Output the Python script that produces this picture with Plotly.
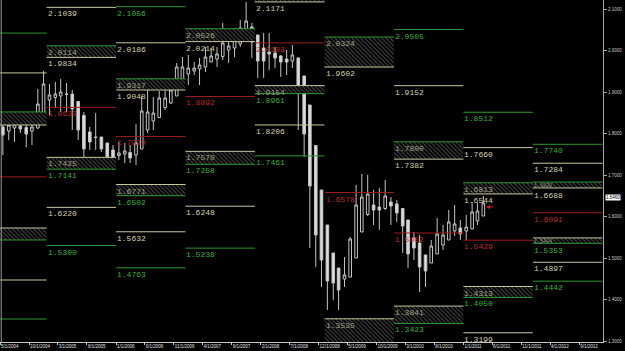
import plotly.graph_objects as go
import pandas as pd

# ---------------- candle data (Heikin-Ashi style monthly candles, May 2004 - Apr 2011)
months = pd.date_range('2004-05-01', periods=84, freq='MS') + pd.Timedelta(days=15)

opens = [
    1.8157, 1.8060, 1.8133, 1.8181, 1.8145, 1.8060, 1.8133, 1.8434,
    1.8807, 1.8868, 1.8904, 1.8952, 1.8952, 1.8771, 1.8434, 1.8036, 1.7916, 1.7916, 1.7771, 1.7603,
    1.7470, 1.7506, 1.7542, 1.7482, 1.7627, 1.8084, 1.8301, 1.8386, 1.8627, 1.8735, 1.8904, 1.9265,
    1.9434, 1.9506, 1.9554, 1.9603, 1.9723, 1.9795, 1.9856, 2.0012, 2.0060, 2.0157, 2.0518, 2.0566,
    2.0374, 2.0060, 1.9964, 1.9940, 1.9868, 1.9795, 1.9747, 1.9819, 1.9386, 1.8687, 1.7711, 1.6639,
    1.5795, 1.5121, 1.4759, 1.4494, 1.4542, 1.5000, 1.5627, 1.6049, 1.6277, 1.6229, 1.6193, 1.6350,
    1.6302, 1.6193, 1.5916, 1.5482, 1.5362, 1.5073, 1.4880, 1.5097, 1.5313, 1.5434, 1.5651, 1.5723,
    1.5651, 1.5699, 1.5892, 1.6013]
highs = [
    1.8325, 1.8325, 1.8374, 1.8494, 1.8446, 1.8446, 1.9072, 1.9506,
    1.9193, 1.9241, 1.9313, 1.9217, 1.9048, 1.8783, 1.8518, 1.8157, 1.8494, 1.7916, 1.7771, 1.7723,
    1.7795, 1.7771, 1.7723, 1.8229, 1.8904, 1.9048, 1.8880, 1.9024, 1.9048, 1.9145, 1.9699, 1.9843,
    1.9892, 1.9723, 1.9819, 2.0084, 2.0060, 2.0084, 2.0663, 2.0325, 2.0542, 2.0735, 2.1169, 2.0663,
    2.0374, 2.0422, 2.0422, 2.0084, 1.9892, 2.0012, 2.0133, 1.9843, 1.9386, 1.8687, 1.7711, 1.6639,
    1.5795, 1.5121, 1.4759, 1.5024, 1.5506, 1.6759, 1.7024, 1.7000, 1.6639, 1.6687, 1.6880, 1.6470,
    1.6398, 1.6193, 1.5916, 1.5627, 1.5554, 1.5073, 1.5434, 1.5964, 1.5795, 1.6157, 1.6277, 1.5916,
    1.6037, 1.6350, 1.6326, 1.6494]
lows = [
    1.7482, 1.7843, 1.7795, 1.8012, 1.7675, 1.7723, 1.8109, 1.8422,
    1.8446, 1.8615, 1.8518, 1.8518, 1.8084, 1.7843, 1.7434, 1.7603, 1.7603, 1.7555, 1.7289, 1.7121,
    1.7362, 1.7289, 1.7289, 1.7241, 1.7627, 1.8012, 1.8084, 1.8374, 1.8566, 1.8711, 1.8904, 1.9217,
    1.9169, 1.9410, 1.9169, 1.9482, 1.9723, 1.9603, 1.9771, 1.9699, 1.9843, 2.0084, 2.0205, 1.9819,
    1.9338, 1.9338, 1.9530, 1.9578, 1.9362, 1.9410, 1.9578, 1.8084, 1.7434, 1.5241, 1.4783, 1.4301,
    1.3747, 1.3988, 1.3747, 1.4301, 1.4542, 1.5000, 1.5627, 1.6013, 1.5795, 1.5675, 1.6157, 1.5795,
    1.5868, 1.5121, 1.4759, 1.4952, 1.4181, 1.4301, 1.4880, 1.5097, 1.5193, 1.5434, 1.5530, 1.5434,
    1.5434, 1.5699, 1.5795, 1.6013]
closes = [
    1.7964, 1.8205, 1.8229, 1.8109, 1.7988, 1.8157, 1.8711, 1.9193,
    1.8928, 1.8952, 1.9000, 1.8940, 1.8591, 1.8084, 1.7627, 1.7795, 1.7904, 1.7627, 1.7434, 1.7338,
    1.7530, 1.7579, 1.7410, 1.7771, 1.8542, 1.8518, 1.8494, 1.8856, 1.8856, 1.9048, 1.9603, 1.9603,
    1.9578, 1.9578, 1.9651, 1.9843, 1.9868, 1.9916, 2.0181, 2.0109, 2.0253, 2.0542, 2.0711, 2.0205,
    1.9747, 1.9747, 1.9916, 1.9819, 1.9723, 1.9723, 1.9892, 1.8976, 1.7988, 1.6735, 1.5554, 1.4952,
    1.4446, 1.4398, 1.4229, 1.4591, 1.5458, 1.6277, 1.6470, 1.6542, 1.6157, 1.6157, 1.6494, 1.6253,
    1.6085, 1.5771, 1.5097, 1.5241, 1.4783, 1.4687, 1.5289, 1.5579, 1.5554, 1.5868, 1.5820, 1.5579,
    1.5747, 1.6109, 1.6133, 1.6326]

# ---------------- yearly level lines
line_year = [2004, 2004, 2004, 2004, 2004,
             2005, 2005, 2005, 2005,
             2006, 2006, 2006, 2006, 2006,
             2007, 2007, 2007,
             2008, 2008, 2008,
             2009,
             2010, 2010, 2010,
             2011, 2011, 2011, 2011,
             2012, 2012, 2012, 2012, 2012]
line_value = [2.0420, 1.9460, 1.6955, 1.4470, 1.3530,
              2.1039, 1.8630, 1.6220, 1.5300,
              2.1056, 2.0186, 1.7929, 1.5632, 1.4763,
              1.8892, 1.6248, 1.5238,
              2.0183, 1.8206, 1.7461,
              1.6578,
              2.0505, 1.9152, 1.5602,
              1.8512, 1.7660, 1.5429, 1.3199,
              1.7740, 1.7284, 1.6091, 1.4897, 1.4442]
line_kind = ['green', 'tan', 'red', 'tan', 'green',
             'tan', 'red', 'tan', 'green',
             'green', 'tan', 'red', 'tan', 'green',
             'red', 'tan', 'green',
             'red', 'tan', 'green',
             'red',
             'green', 'tan', 'red',
             'green', 'tan', 'red', 'tan',
             'green', 'tan', 'red', 'tan', 'green']

# ---------------- yearly hatched zones
zone_year = [2004, 2004, 2005, 2005, 2006, 2006, 2007, 2007, 2008, 2008,
             2009, 2009, 2010, 2010, 2011, 2011, 2012, 2012]
zone_top = [1.8520, 1.5723, 2.0114, 1.7425, 1.9317, 1.6771, 2.0526, 1.7570, 2.1420, 1.9154,
            2.0324, 1.3535, 1.7800, 1.3841, 1.6813, 1.4313, 1.6830, 1.5484]
zone_bottom = [1.8205, 1.5434, 1.9834, 1.7141, 1.9048, 1.6502, 2.0214, 1.7258, 2.1171, 1.8961,
               1.9602, 1.2680, 1.7382, 1.3423, 1.6544, 1.4050, 1.6688, 1.5353]
zone_side = ['R', 'S'] * 9

last_price = 1.6460

# ---------------- styling
GREEN = '#2f9a2f'
GREEN_TXT = '#3fae3f'
TAN = '#c8c8a0'
TAN_TXT = '#d2d2ae'
RED = '#a01c1c'
RED_TXT = '#b83030'
DIM_TXT = '#a0a088'
LINE_COL = {'green': GREEN, 'tan': TAN, 'red': RED}
TXT_COL = {'green': GREEN_TXT, 'tan': TAN_TXT, 'red': RED_TXT}

X0 = pd.Timestamp('2004-05-01')
X1 = pd.Timestamp('2013-01-04')
Y0, Y1 = 1.2976, 2.1217
LABEL_FONT = 'Liberation Mono'
AXIS_FONT = 'Liberation Sans'


def ys(y):
    return pd.Timestamp(f'{y}-01-01')


def ye(y):
    return pd.Timestamp(f'{y + 1}-01-01')


fig = go.Figure()

# hatched zones
zx, zy = [], []
for y, t, b in zip(zone_year, zone_top, zone_bottom):
    zx += [ys(y), ye(y), ye(y), ys(y), ys(y), None]
    zy += [t, t, b, b, t, None]
fig.add_trace(go.Scatter(
    x=zx, y=zy, mode='none', fill='toself', fillcolor='#000000',
    fillpattern=dict(shape='\\', fgcolor='#8c8c8c', bgcolor='#000000', size=3, solidity=0.35),
    hoverinfo='skip', showlegend=False))

# level lines (including zone borders)
segs = {'green': ([], []), 'tan': ([], []), 'red': ([], [])}
for y, v, k in zip(line_year, line_value, line_kind):
    segs[k][0].extend([ys(y), ye(y), None])
    segs[k][1].extend([v, v, None])
for y, t, b, s in zip(zone_year, zone_top, zone_bottom, zone_side):
    topk, botk = ('green', 'tan') if s == 'R' else ('tan', 'green')
    segs[topk][0].extend([ys(y), ye(y), None])
    segs[topk][1].extend([t, t, None])
    segs[botk][0].extend([ys(y), ye(y), None])
    segs[botk][1].extend([b, b, None])
for k, (xx, yy) in segs.items():
    fig.add_trace(go.Scatter(x=xx, y=yy, mode='lines', line=dict(color=LINE_COL[k], width=1),
                             hoverinfo='skip', showlegend=False))

# candles
fig.add_trace(go.Candlestick(
    x=months, open=opens, high=highs, low=lows, close=closes,
    increasing=dict(line=dict(color='#c4c4c4', width=1), fillcolor='#000000'),
    decreasing=dict(line=dict(color='#c4c4c4', width=1), fillcolor='#dcdcdc'),
    whiskerwidth=0, showlegend=False))

# labels
annotations = []


def add_label(year, value, color, size=8, yshift=-1):
    if ys(year) < X0 or not (Y0 < value < Y1):
        return
    annotations.append(dict(x=ys(year), y=value, xref='x', yref='y', text=f'{value:.4f}',
                            showarrow=False, xanchor='left', yanchor='top', xshift=0, yshift=yshift,
                            borderpad=0, font=dict(family=LABEL_FONT, size=size, color=color)))


for y, v, k in zip(line_year, line_value, line_kind):
    add_label(y, v, TXT_COL[k])
for y, t, b, s in zip(zone_year, zone_top, zone_bottom, zone_side):
    thin = (t - b) < 0.016
    add_label(y, t, DIM_TXT, size=5 if thin else 8, yshift=0 if thin else -1)
    add_label(y, b, TAN_TXT if s == 'R' else GREEN_TXT, yshift=-2 if thin else -1)

# last price box & arrow
annotations.append(dict(x=1.0, y=last_price, xref='paper', yref='y', text=f'{last_price:.4f}',
                        showarrow=False, xanchor='left', yanchor='middle', xshift=2,
                        bgcolor='#ffffff', borderpad=0,
                        font=dict(family=AXIS_FONT, size=4.5, color='#000000')))
annotations.append(dict(x=months[-1] + pd.Timedelta(days=14), y=closes[-1] - 0.0095,
                        xref='x', yref='y', text='', showarrow=True, ax=9, ay=0,
                        arrowhead=2, arrowsize=0.8, arrowwidth=1, arrowcolor='#c02020'))

fig.update_layout(
    width=625, height=351,
    margin=dict(l=0, r=22, t=0, b=9),
    paper_bgcolor='#000000', plot_bgcolor='#000000',
    showlegend=False,
    annotations=annotations,
    shapes=[dict(type='line', xref='paper', yref='paper', x0=0.002, x1=0.002, y0=0, y1=1,
                 line=dict(color='#9a9a9a', width=1))],
    xaxis=dict(range=[X0, X1], rangeslider=dict(visible=False), showgrid=False, zeroline=False,
               showline=True, linecolor='#c8c8c8', linewidth=1,
               ticks='outside', ticklen=2, tickcolor='#c8c8c8',
               tick0='2004-05-01', dtick='M5', tickformat='%-m/%-d/%Y',
               ticklabelposition='outside right', tickangle=0,
               tickfont=dict(family=AXIS_FONT, size=4.5, color='#e0e0e0')),
    yaxis=dict(range=[Y0, Y1], side='right', showgrid=False, zeroline=False,
               showline=True, linecolor='#a8a8a8', linewidth=1,
               ticks='outside', ticklen=3, tickcolor='#a8a8a8',
               tick0=1.3, dtick=0.1, tickformat='.4f',
               tickfont=dict(family=AXIS_FONT, size=4.5, color='#c8c8c8')),
)

fig.write_html('out.html')
